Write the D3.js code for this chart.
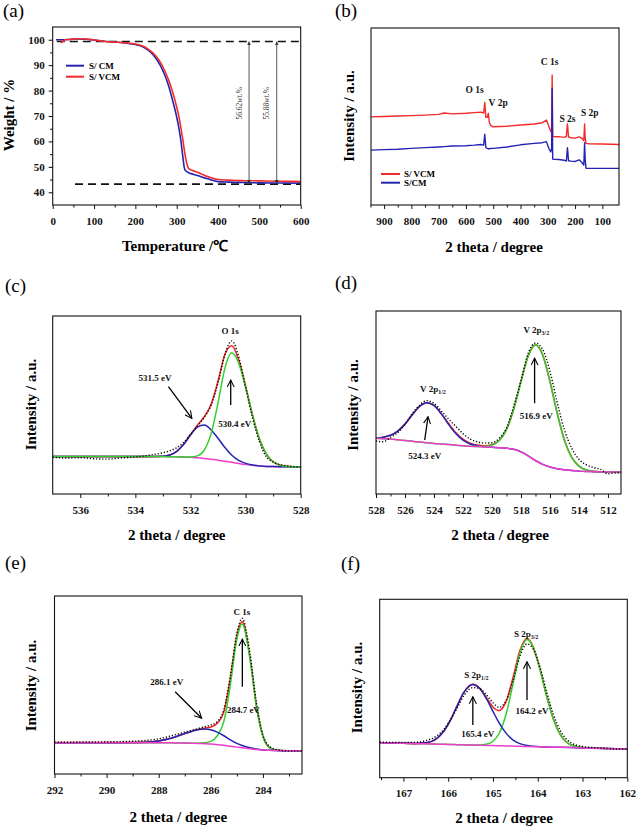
<!DOCTYPE html>
<html><head><meta charset="utf-8">
<script src="https://cdn.jsdelivr.net/npm/d3@7"></script>
<style>body{margin:0;background:#fff}</style>
</head><body>
<script>
// ---------- (a) TGA ----------
const tgaTempCM = [8,20,30,40,60,80,100,125,150,175,200,210,220,230,240,250,260,270,280,290,300,305,310,315,318,320,325,330,340,350,375,400,425,450,500,550,600];
const tgaCM     = [100,100,100,100.1,100.3,100.2,99.9,99.4,99.1,98.7,98.1,97.7,97.0,96.0,94.6,92.6,90.0,86.5,82.1,76.2,69.6,65.5,60.4,53.8,50.0,48.8,48.1,47.6,47.1,46.6,45.3,44.2,44.0,43.9,43.7,43.65,43.6];
const tgaTempVCM = [20,25,30,40,60,80,100,125,150,175,200,210,220,230,240,250,260,270,280,290,300,305,310,315,320,325,328,330,340,350,375,400,425,450,500,550,600];
const tgaVCM     = [98.8,99.4,100,100.1,100.4,100.3,99.9,99.3,99.1,98.8,98.3,97.9,97.3,96.4,95.2,93.5,91.3,88.2,84.3,79.5,73.5,70.0,65.5,60.5,55.0,51.0,49.6,49.2,48.5,47.9,46.2,45.0,44.8,44.6,44.5,44.35,44.2];
const tgaTicks = [0,100,200,300,400,500,600];
const tgaYTicks = [40,50,60,70,80,90,100];
const tgaLossLabels = ["56.62wt.%","55.88wt.%"];
const tgaLossTemps = [475,542];
const tgaLevels = [99.3,43.3];

// ---------- (b) survey ----------
const surveyBE  = [948,900,850,800,750,700,680,650,600,570,545,535,531,527,522,518,514,510,500,450,400,350,320,305,295,289,286,284,282,280,275,260,240,232,228,224,215,200,185,175,168,165,163,160,150,100,39];
const surveyVCM = [49.8,50,50.3,50.5,50.8,51.2,52,51.5,51.8,52.2,52.5,52.0,58,49.5,49.5,51.8,46.5,45,44.2,44.5,45.2,45.8,46.5,48,44,41.5,42,73.5,39,38.8,38.6,38.6,38.2,38.8,45.8,38.5,38,37.8,38.5,37.6,36.5,45.8,38,34.8,34.6,34.5,34.2];
const surveyCM  = [31,31.3,31.5,32,32.4,32.8,33,33.3,33.5,33.8,34.2,33.8,40,32.5,32,31.8,31.8,31.9,32,32.8,34,34.8,35.2,35.8,31.5,30,32,66,26,25.8,25.8,25.7,25.3,24.8,32.4,25,24.8,24.6,25.5,24,22.6,35.2,26,20.8,20.7,20.7,20.7];
const surveyTicks = [900,800,700,600,500,400,300,200,100];
const surveyPeaks = ["O 1s","V 2p","C 1s","S 2s","S 2p"];
const surveyPeakBE = [568,482,293,228,146];
const surveyPeakY = [65,57.6,80.8,48.6,52];

// ---------- (c) O 1s ----------
const oBE    = [537,536.5,536,535.5,535,534.5,534,533.5,533,532.75,532.5,532.25,532,531.75,531.5,531.25,531,530.75,530.5,530.25,530,529.75,529.5,529.25,529,528.75,528.5,528.25,528];
const oBg    = [21,21,21,21,21,21,21,21,21,20.95,20.9,20.8,20.6,20.3,20,19.5,19,18.4,17.8,17.1,16.5,16.1,15.7,15.5,15.4,15.35,15.3,15.3,15.3];
const oBlue  = [21,21,21,21,21,21,21,21,21.2,21.9,24,27.8,33.1,37.6,38.7,36,31.3,26.1,21.8,18.9,17.2,16.3,15.8,15.5,15.4,15.35,15.3,15.3,15.3];
const oGreen = [21,21,21,21,21,21,21,21,21,20.95,20.9,20.8,20.8,21.4,24.7,33.9,51.2,70.7,79.3,73.5,60,44.3,31,22.5,18.1,16.2,15.5,15.3,15.3];
const oEnv   = [21,21,21,21,21,21,21,21,21.2,21.9,24,27.8,33.3,38.7,43.4,50.4,63.5,78.4,83.3,75.3,60.7,44.5,31.1,22.5,18.1,16.25,15.5,15.3,15.3];
const oData  = [20.6,20.2,20.4,19.8,19.6,20.3,20.8,21.8,23.2,24.3,26,29,33.5,38,43,50,62.5,78.5,86,77,60,43,29.5,21,18,16.5,15.8,15.4,15.2];
const oTicks = [536,534,532,530,528];

// ---------- (d) V 2p ----------
const vBE    = [528,527.5,527,526.5,526,525.5,525,524.5,524,523.5,523,522.5,522,521.5,521,520.5,520,519.5,519,518.5,518,517.5,517,516.5,516,515.5,515,514.5,514,513.5,513,512.5,512,511.5,511.1];
const vBg    = [30.4,30.2,30,29.6,29.2,28.8,28.4,28,27.6,27.3,27,26.7,26.4,26.1,25.9,25.7,25.5,25.3,25,24.4,23,20.8,18.3,16.2,14.8,13.8,13.2,12.8,12.5,12.3,12.2,12.1,12,12,12];
const vBlue  = [30.6,31,32.1,34.4,38.2,43.3,47.8,49.9,48.4,43.9,38.1,33,29.4,27.3,26.3,25.8,25.5,25.3,25,24.4,23,20.8,18.3,16.2,14.8,13.8,13.2,12.8,12.5,12.3,12.2,12.1,12,12,12];
const vGreen = [30.4,30.2,30,29.6,29.2,28.8,28.4,28,27.6,27.3,27,26.7,26.4,26.1,25.9,26,26.7,29.2,35.3,46.4,61.5,75.5,81.5,76,61.5,44.1,29.4,20,15.2,13.1,12.4,12.1,12,12,12];
const vEnv   = [30.6,31,32.1,34.4,38.2,43.3,47.8,49.9,48.4,43.9,38.6,33.6,30,27.8,26.7,26.4,26.9,29.2,35.3,46.4,61.5,75.5,81.5,76,61.5,44.1,29.4,20,15.2,13.1,12.4,12.1,12,12,12];
const vData  = [29,28.5,31,33.5,38,44,48.5,51,49.5,45.5,41,37,33,30,28.5,27.8,28,30.5,36,48,62,77,82.5,79,67,50,35,25,19,16,14.5,13.5,11,11.5,11.5];
const vTicks = [528,526,524,522,520,518,516,514,512];

// ---------- (e) C 1s ----------
const cBE    = [292,291.5,291,290.5,290,289.5,289,288.5,288,287.5,287,286.75,286.5,286.25,286,285.75,285.5,285.25,285,284.8,284.5,284.25,284,283.75,283.5,283,282.5];
const cBg    = [17.6,17.6,17.6,17.6,17.6,17.6,17.6,17.6,17.6,17.5,17.4,17.3,17.2,17,16.8,16.5,16.1,15.6,15.1,14.7,14.2,13.8,13.5,13.3,13.2,13.1,13.1];
const cBlue  = [17.6,17.6,17.6,17.6,17.6,17.6,17.65,17.9,18.6,20.2,22.7,23.9,24.9,25.25,24.9,23.5,21.5,19.2,17.2,16,14.7,14,13.55,13.3,13.2,13.1,13.1];
const cGreen = [17.6,17.6,17.6,17.6,17.6,17.6,17.6,17.6,17.6,17.5,17.4,17.3,17.25,17.5,18.3,21.5,29.5,50.1,75.7,84.3,65.2,38.2,21.1,14.8,13.4,13.1,13.1];
const cEnv   = [17.6,17.6,17.6,17.6,17.6,17.6,17.65,17.9,18.6,20.2,22.7,23.9,24.95,25.75,26.4,28.5,34.9,53.7,77.8,85.6,65.7,38.4,21.2,14.8,13.4,13.1,13.1];
const cData  = [17.9,17.8,18,18,18.1,18.2,18.4,18.8,19.8,21.5,23.5,24.5,25.5,26.5,27.5,29.5,36,55,79,87.5,68,40,22,15.5,13.8,13,13];
const cTicks = [292,290,288,286,284];

// ---------- (f) S 2p ----------
const sBE    = [167.53,167.25,167,166.75,166.5,166.25,166.1,165.95,165.8,165.65,165.45,165.3,165.15,165,164.87,164.7,164.55,164.4,164.24,164.1,163.95,163.8,163.65,163.5,163.25,163,162.5,162];
const sBg    = [19.6,19.4,19.3,19.1,19,18.8,18.7,18.6,18.5,18.4,18.3,18.2,18.1,18,17.9,17.8,17.7,17.6,17.5,17.4,17.3,17.2,17.1,17.05,16.9,16.7,16.4,16.1];
const sBlue  = [19.6,19.4,19.3,19.2,19.6,22.1,26,32.3,40.3,47.8,52.3,50.1,44.4,37.2,31,24.7,21.1,19.1,18,17.6,17.3,17.2,17.1,17.05,16.9,16.7,16.4,16.1];
const sGreen = [19.6,19.4,19.3,19.1,19,18.8,18.7,18.6,18.5,18.4,18.3,18.3,18.7,20.4,24.5,36.3,52.9,69.6,77.5,73,60.7,45.6,32.8,24.3,18.3,16.9,16.4,16.1];
const sEnv   = [19.6,19.4,19.3,19.2,19.6,22.1,26,32.3,40.3,47.8,52.3,50.2,45,39.6,37.6,43.2,56.3,71.1,78,73.2,60.7,45.6,32.8,24.3,18.3,16.9,16.4,16.1];
const sData  = [20,19.8,19.8,19.8,20.8,23.5,27,32.5,39,46,50.5,50,46.5,42,39.5,43.5,54.5,68,75,72,62,48,35.5,26.5,19.5,17.5,16.5,16];
const sTicks = [167,166,165,164,163,162];

// ---------- drawing ----------
const FONT = '"Liberation Serif","Times New Roman",serif';
const RED = '#f42a2a', BLUE = '#2424b2', GREEN = '#2fd02f', MAG = '#f03ccc';
const svg = d3.select('body').append('svg').attr('width', 638).attr('height', 829)
  .style('display', 'block').style('font-family', FONT);
const defs = svg.append('defs');
defs.append('marker').attr('id', 'open').attr('viewBox', '0 0 10 10').attr('refX', 9).attr('refY', 5)
  .attr('markerWidth', 8).attr('markerHeight', 8).attr('markerUnits', 'userSpaceOnUse').attr('orient', 'auto')
  .append('path').attr('d', 'M0,0.5 L9,5 L0,9.5').attr('fill', 'none').attr('stroke', '#000').attr('stroke-width', 1.3);
defs.append('marker').attr('id', 'solid').attr('viewBox', '0 0 10 10').attr('refX', 10).attr('refY', 5)
  .attr('markerWidth', 4).attr('markerHeight', 4).attr('markerUnits', 'userSpaceOnUse').attr('orient', 'auto-start-reverse')
  .append('path').attr('d', 'M0,0 L10,5 L0,10 z').attr('fill', '#333');

function minorBetween(ticks) {
  const out = [];
  for (let i = 0; i < ticks.length - 1; i++) out.push((ticks[i] + ticks[i + 1]) / 2);
  return out;
}

function panel(o) {
  const x = d3.scaleLinear().domain(o.xd).range([o.l, o.r]);
  const y = d3.scaleLinear().domain(o.yd).range([o.b, o.t]);
  const g = svg.append('g');
  defs.append('clipPath').attr('id', 'clip' + o.id).append('rect')
    .attr('x', o.l).attr('y', o.t).attr('width', o.r - o.l).attr('height', o.b - o.t);
  const plot = g.append('g').attr('clip-path', `url(#clip${o.id})`);
  const over = g.append('g');
  const xa = g.append('g').attr('transform', `translate(0,${o.b})`)
    .call(d3.axisBottom(x).tickValues(o.xMajor).tickSize(4).tickSizeOuter(0).tickPadding(8).tickFormat(d3.format('d')));
  xa.select('.domain').remove();
  xa.selectAll('text').attr('font-family', FONT).attr('font-size', 11).attr('font-weight', 'bold').attr('fill', '#111');
  xa.selectAll('line').attr('stroke', '#111');
  const xm = g.append('g').attr('transform', `translate(0,${o.b})`)
    .call(d3.axisBottom(x).tickValues(o.xMinor).tickSize(2.5).tickFormat(''));
  xm.select('.domain').remove();
  xm.selectAll('line').attr('stroke', '#111');
  if (o.yMajor) {
    const ya = g.append('g').attr('transform', `translate(${o.l},0)`)
      .call(d3.axisLeft(y).tickValues(o.yMajor).tickSize(4).tickSizeOuter(0).tickPadding(4));
    ya.select('.domain').remove();
    ya.selectAll('text').attr('font-family', FONT).attr('font-size', 11).attr('font-weight', 'bold').attr('fill', '#111');
    const ym = g.append('g').attr('transform', `translate(${o.l},0)`)
      .call(d3.axisLeft(y).tickValues(o.yMinor).tickSize(2.5).tickFormat(''));
    ym.select('.domain').remove();
  }
  g.append('rect').attr('x', o.l).attr('y', o.t).attr('width', o.r - o.l).attr('height', o.b - o.t)
    .attr('fill', 'none').attr('stroke', '#111').attr('stroke-width', 1.1);
  svg.append('text').attr('x', o.xt[0]).attr('y', o.xt[1]).attr('dy', '0.35em').attr('text-anchor', 'middle')
    .attr('font-size', 15).attr('font-weight', 'bold').text(o.xTitle);
  svg.append('text').attr('transform', `translate(${o.yt[0]},${o.yt[1]}) rotate(-90)`).attr('dy', '0.35em')
    .attr('text-anchor', 'middle').attr('font-size', 15).attr('font-weight', 'bold').text(o.yTitle);
  svg.append('text').attr('x', o.lab[0]).attr('y', o.lab[1]).attr('font-size', 19).text(o.label);
  return { x, y, plot, over };
}

function curve(p, xs, ys, color, w, type, dash) {
  const pts = xs.map((v, i) => [v, ys[i]]);
  p.plot.append('path').datum(pts)
    .attr('d', d3.line().x(d => p.x(d[0])).y(d => p.y(d[1])).curve(type || d3.curveMonotoneX))
    .attr('fill', 'none').attr('stroke', color).attr('stroke-width', w || 1.5)
    .attr('stroke-dasharray', dash || null).attr('stroke-linejoin', 'round');
}
function dots(p, xs, ys) { curve(p, xs, ys, '#000', 1.4, d3.curveMonotoneX, '1.2,1.9'); }
function arrow(p, x1, y1, x2, y2) {
  p.over.append('line').attr('x1', p.x(x1)).attr('y1', p.y(y1)).attr('x2', p.x(x2)).attr('y2', p.y(y2))
    .attr('stroke', '#000').attr('stroke-width', 1.3).attr('marker-end', 'url(#open)');
}
function note(p, xv, yv, main, sub, size) {
  const t = p.over.append('text').attr('x', p.x(xv)).attr('y', p.y(yv)).attr('dy', '0.35em')
    .attr('text-anchor', 'middle').attr('font-size', size || 9).attr('font-weight', 'bold').attr('fill', '#111');
  t.append('tspan').text(main);
  if (sub) t.append('tspan').attr('font-size', 6).attr('dy', 2).text(sub);
}
const XT = '2 theta / degree', YT = 'Intensity / a.u.';

// (a)
const pa = panel({ id: 'a', xd: [0, 600], yd: [35, 105], l: 52.7, r: 300.7, t: 27, b: 205,
  xMajor: tgaTicks, xMinor: minorBetween(tgaTicks), yMajor: tgaYTicks, yMinor: [45, 55, 65, 75, 85, 95],
  xTitle: 'Temperature /\u2103', yTitle: 'Weight / %', xt: [175, 246], yt: [9, 115], label: '(a)', lab: [3, 17] });
pa.plot.append('line').attr('x1', pa.x(10)).attr('x2', pa.x(600)).attr('y1', pa.y(tgaLevels[0])).attr('y2', pa.y(tgaLevels[0]))
  .attr('stroke', '#111').attr('stroke-width', 1.6).attr('stroke-dasharray', '8,5');
pa.plot.append('line').attr('x1', pa.x(54)).attr('x2', pa.x(600)).attr('y1', pa.y(43.2)).attr('y2', pa.y(43.2))
  .attr('stroke', '#111').attr('stroke-width', 1.6).attr('stroke-dasharray', '8,5');
curve(pa, tgaTempCM, tgaCM, BLUE, 1.6, d3.curveMonotoneX);
curve(pa, tgaTempVCM, tgaVCM, RED, 1.6, d3.curveMonotoneX);
tgaLossTemps.forEach((T, i) => {
  pa.over.append('line').attr('x1', pa.x(T)).attr('x2', pa.x(T)).attr('y1', pa.y(tgaLevels[0])).attr('y2', pa.y(tgaLevels[1]))
    .attr('stroke', '#444').attr('stroke-width', 0.9).attr('marker-start', 'url(#solid)').attr('marker-end', 'url(#solid)');
  pa.over.append('text').attr('transform', `translate(${pa.x(T) - 10},${pa.y(75)}) rotate(-90)`).attr('dy', '0.35em')
    .attr('text-anchor', 'middle').attr('font-size', 7.5).attr('fill', '#333').text(tgaLossLabels[i]);
});
[[BLUE, 'S/ CM', 65.7], [RED, 'S/ VCM', 76.7]].forEach(([c, t, yy]) => {
  pa.over.append('line').attr('x1', 66).attr('x2', 84).attr('y1', yy).attr('y2', yy).attr('stroke', c).attr('stroke-width', 2);
  pa.over.append('text').attr('x', 89).attr('y', yy).attr('dy', '0.35em').attr('font-size', 9).attr('font-weight', 'bold').text(t);
});

// (b)
const pb = panel({ id: 'b', xd: [948, 39], yd: [0, 100], l: 371, r: 619, t: 28, b: 205,
  xMajor: surveyTicks, xMinor: minorBetween(surveyTicks).concat([950]), xTitle: XT, yTitle: YT,
  xt: [494, 247], yt: [349, 116], label: '(b)', lab: [335, 17] });
curve(pb, surveyBE, surveyVCM, RED, 1.4, d3.curveLinear);
curve(pb, surveyBE, surveyCM, BLUE, 1.4, d3.curveLinear);
surveyPeaks.forEach((t, i) => note(pb, surveyPeakBE[i], surveyPeakY[i], t, null, 9.5));
[[RED, 'S/ VCM', 174], [BLUE, 'S/CM', 182.7]].forEach(([c, t, yy]) => {
  pb.over.append('line').attr('x1', 381).attr('x2', 400).attr('y1', yy).attr('y2', yy).attr('stroke', c).attr('stroke-width', 2);
  pb.over.append('text').attr('x', 404).attr('y', yy).attr('dy', '0.35em').attr('font-size', 9).attr('font-weight', 'bold').text(t);
});

// (c)
const pc = panel({ id: 'c', xd: [537, 528], yd: [0, 100], l: 52.7, r: 300.7, t: 316, b: 494,
  xMajor: oTicks, xMinor: [535, 533, 531, 529], xTitle: XT, yTitle: YT,
  xt: [176.7, 535], yt: [30.5, 404.5], label: '(c)', lab: [5, 292] });
curve(pc, oBE, oEnv, RED, 1.6);
curve(pc, oBE, oBg, MAG, 1.5);
curve(pc, oBE, oBlue, BLUE, 1.5);
curve(pc, oBE, oGreen, GREEN, 1.5);
dots(pc, oBE, oData);
note(pc, 530.56, 91.6, 'O 1s');
note(pc, 533.29, 65.3, '531.5 eV');
arrow(pc, 532.8, 60.3, 531.95, 42.5);
arrow(pc, 530.54, 50, 530.54, 64);
note(pc, 530.39, 39.3, '530.4 eV');

// (d)
const pd = panel({ id: 'd', xd: [528, 511.1], yd: [0, 100], l: 376, r: 621, t: 311, b: 494,
  xMajor: vTicks, xMinor: [527, 525, 523, 521, 519, 517, 515, 513], xTitle: XT, yTitle: YT,
  xt: [500, 535], yt: [353, 405], label: '(d)', lab: [335, 289] });
curve(pd, vBE, vEnv, RED, 1.6);
curve(pd, vBE, vBlue, BLUE, 1.5);
curve(pd, vBE, vGreen, GREEN, 1.5);
curve(pd, vBE, vBg, MAG, 1.5);
dots(pd, vBE, vData);
note(pd, 516.94, 89.6, 'V 2p', '3/2');
note(pd, 524.07, 57.4, 'V 2p', '1/2');
arrow(pd, 524.64, 29.5, 524.41, 42.2);
note(pd, 524.64, 20.9, '524.3 eV');
arrow(pd, 517.06, 49.6, 517.06, 74.2);
note(pd, 516.94, 42.8, '516.9 eV');

// (e)
const pe = panel({ id: 'e', xd: [292, 282.5], yd: [0, 100], l: 54.5, r: 302, t: 596, b: 774,
  xMajor: cTicks, xMinor: [291, 289, 287, 285, 283], xTitle: XT, yTitle: YT,
  xt: [178.3, 816.5], yt: [30.5, 685.5], label: '(e)', lab: [5, 569] });
curve(pe, cBE, cEnv, RED, 1.6);
curve(pe, cBE, cGreen, GREEN, 1.5);
curve(pe, cBE, cBlue, BLUE, 1.5);
curve(pe, cBE, cBg, MAG, 1.5);
dots(pe, cBE, cData);
note(pe, 284.81, 91.2, 'C 1s');
note(pe, 287.69, 51.5, '286.1 eV');
arrow(pe, 287.37, 46.2, 286.35, 31.3);
arrow(pe, 284.79, 49, 284.79, 75.7);
note(pe, 284.75, 36, '284.7 eV');

// (f)
const pf = panel({ id: 'f', xd: [167.53, 162], yd: [0, 100], l: 379.7, r: 627.3, t: 599.3, b: 777.7,
  xMajor: sTicks, xMinor: [167.5, 166.5, 165.5, 164.5, 163.5, 162.5], xTitle: XT, yTitle: YT,
  xt: [504, 818], yt: [356.8, 687.5], label: '(f)', lab: [341, 570] });
curve(pf, sBE, sEnv, RED, 1.6);
curve(pf, sBE, sGreen, GREEN, 1.5);
curve(pf, sBE, sBlue, BLUE, 1.5);
curve(pf, sBE, sBg, MAG, 1.5);
dots(pf, sBE, sData);
note(pf, 164.26, 80.9, 'S 2p', '3/2');
note(pf, 165.37, 57.6, 'S 2p', '1/2');
arrow(pf, 165.45, 29.5, 165.45, 45.4);
note(pf, 165.34, 24.3, '165.4 eV');
arrow(pf, 164.24, 43.6, 164.24, 65);
note(pf, 164.13, 37.4, '164.2 eV');
</script>
</body></html>
